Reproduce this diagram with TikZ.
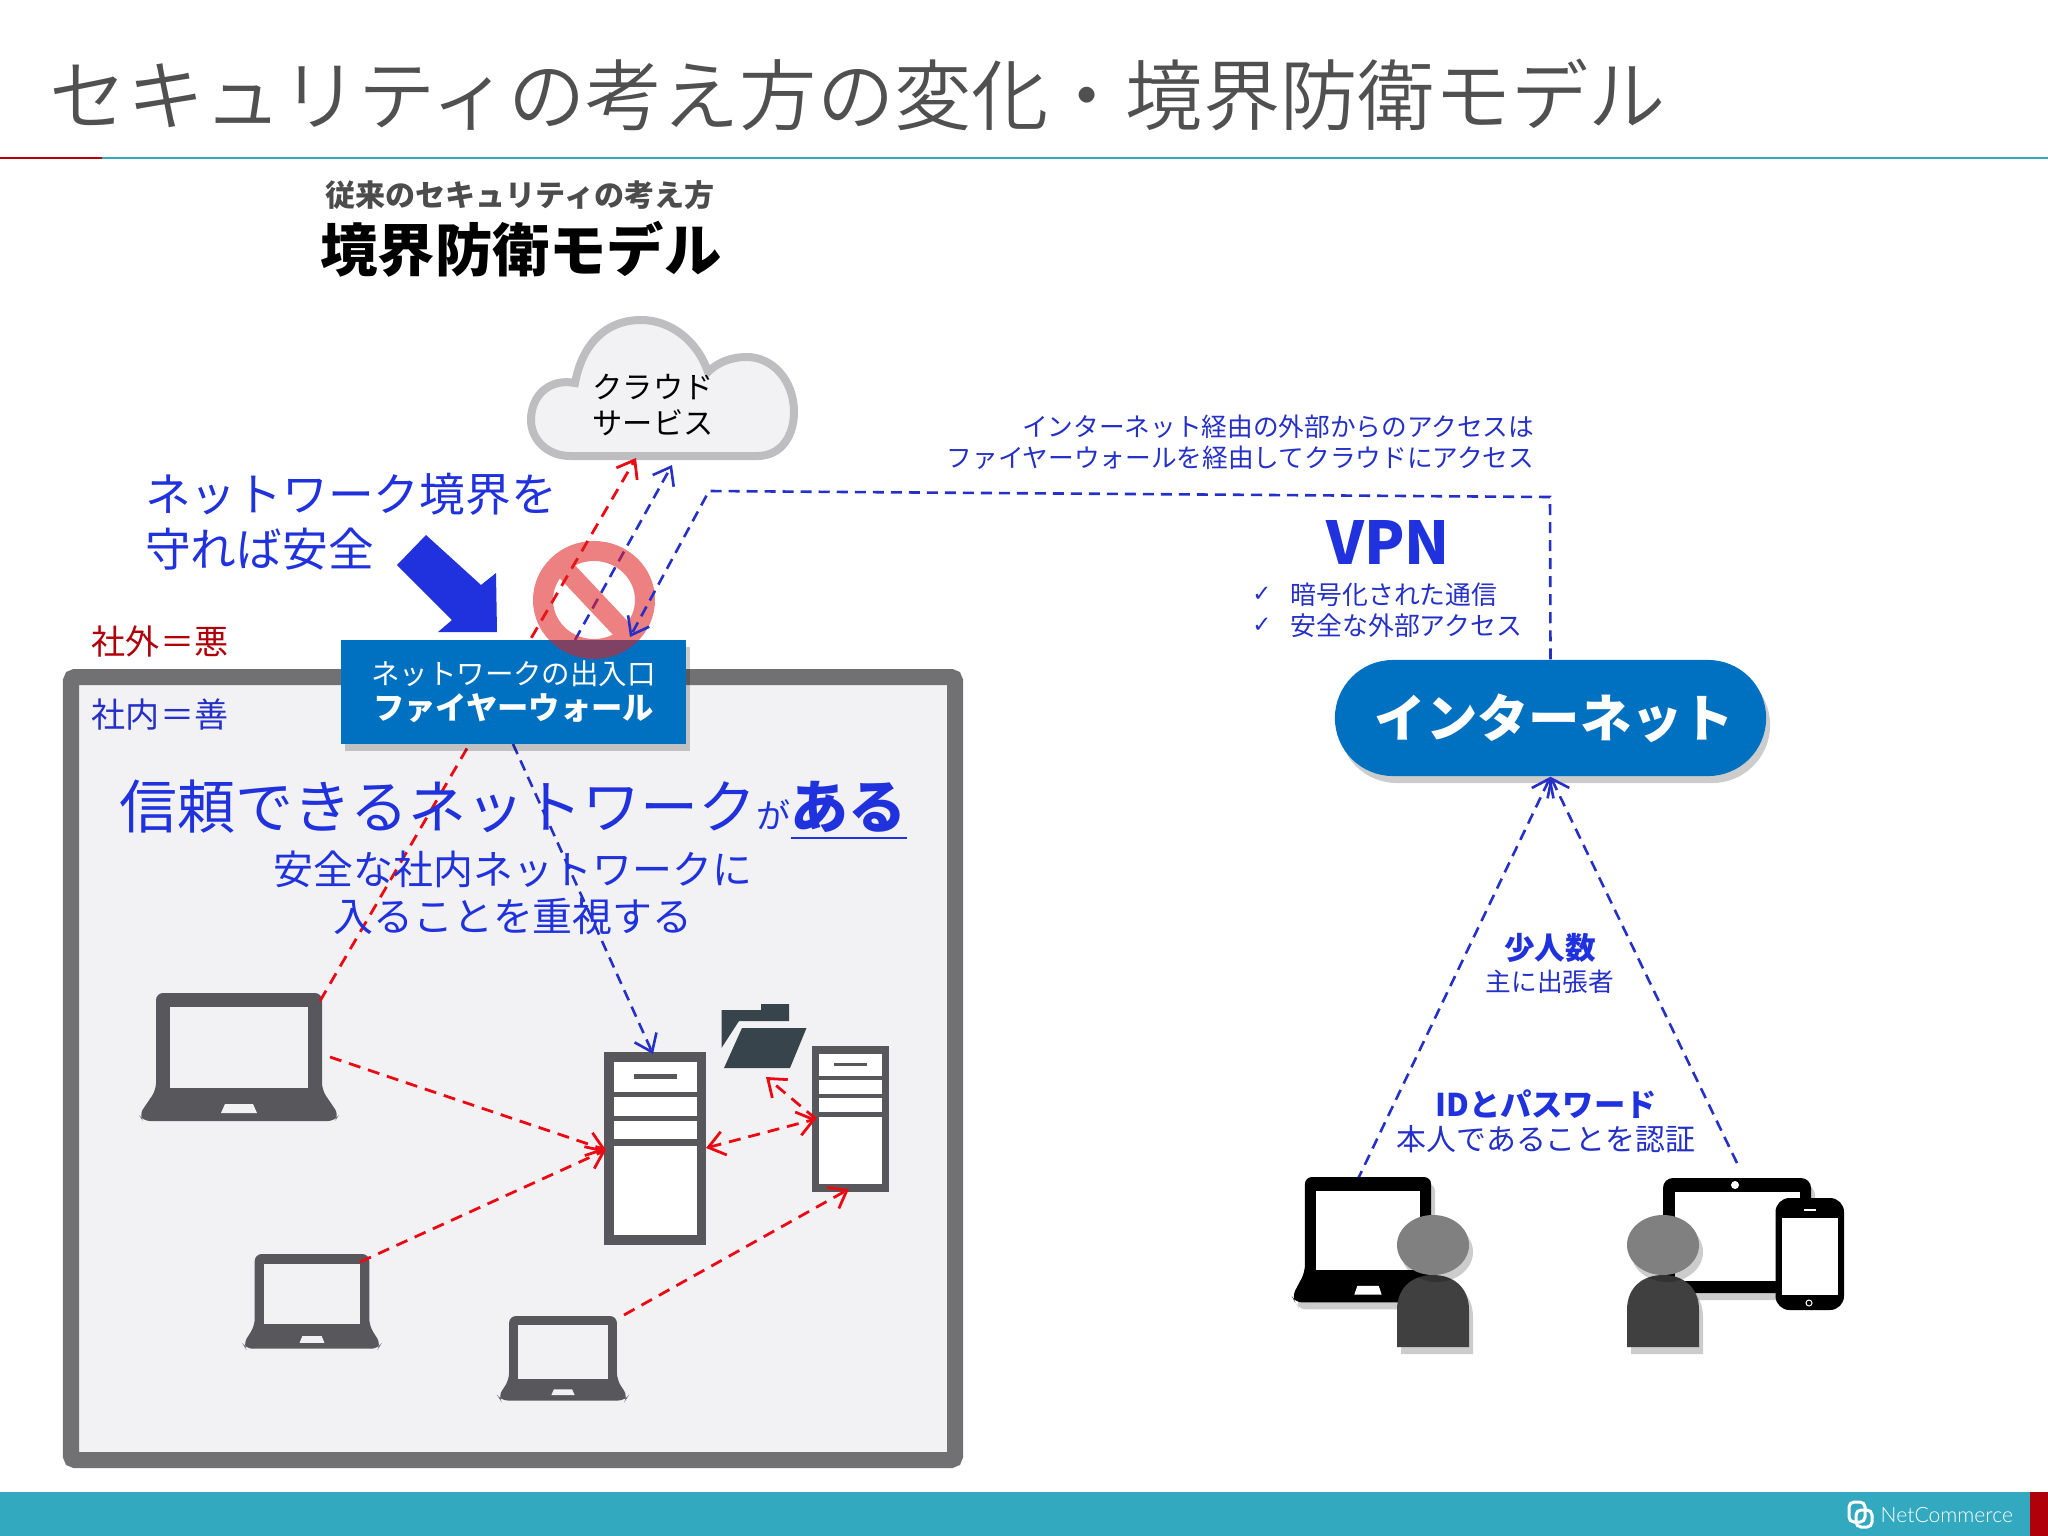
\documentclass[tikz,border=0pt]{standalone}
\usepackage{fontspec}
\setmainfont{Noto Sans CJK JP}
\newfontfamily\lightfont{Noto Sans CJK JP DemiLight}
\newfontfamily\symfont{DejaVu Sans}
\newfontfamily\logofont{Lato Light}
\usepackage{xcolor}
\definecolor{blue1}{RGB}{32,50,222}
\definecolor{blue2}{RGB}{36,48,200}
\definecolor{red1}{RGB}{235,10,20}
\definecolor{wine}{RGB}{176,0,10}
\definecolor{fwblue}{RGB}{0,112,192}
\definecolor{panel}{RGB}{242,242,244}
\definecolor{frame}{RGB}{113,112,115}
\definecolor{icon}{RGB}{88,87,91}
\definecolor{folder}{RGB}{55,68,76}
\definecolor{cloudline}{RGB}{190,190,192}
\definecolor{teal1}{RGB}{51,169,191}
\definecolor{titlegrey}{RGB}{80,80,80}
\definecolor{stop}{RGB}{224,32,32}
\usetikzlibrary{arrows.meta,shadows}
\newcommand{\fs}[2]{\fontsize{#1pt}{#2pt}\selectfont}

\tikzset{
    >={Straight Barb[length=.16cm,width=.24cm]},
    txt/.style={inner sep=0pt,align=center},
    shd/.style={drop shadow={shadow xshift=.04cm,shadow yshift=-.07cm,opacity=.2,fill=black}},
    redline/.style={draw=red1,line width=.028cm,dash pattern=on .12cm off .08cm},
    blueline/.style={draw=blue2,line width=.026cm,dash pattern=on .11cm off .07cm},
    pics/laptop/.style n args={2}{code={
        \fill[#1,rounded corners=.07cm] (-83,0) -- (83,0) -- (83,97) -- (100,122) -- (96,128) -- (-96,128) -- (-100,122) -- (-83,97) -- cycle;
        \fill[#2] (-69,14) rectangle (69,95);
        \fill[#2] (-14,111) -- (14,111) -- (18,120) -- (-18,120) -- cycle;
    }},
    pics/server/.style={code={
        \fill[icon] (-51,0) rectangle (51,193);
        \fill[white] (-41.5,10) rectangle (41.5,40);
        \fill[white] (-41.5,45) rectangle (41.5,64);
        \fill[white] (-41.5,69) rectangle (41.5,87);
        \fill[white] (-41.5,94) rectangle (41.5,183);
        \fill[icon] (-21.5,22) rectangle (21.5,27);
    }},
    pics/person/.style={code={
        \fill[black!75,shd] (-36,102) -- (-36,65) .. controls (-36,42) and (-20,30) .. (0,30) .. controls (20,30) and (36,42) .. (36,65) -- (36,102) -- cycle;
        \fill[black!50,shd] (0,0) ellipse (36 and 30);
    }},
}

\begin{document}
\begin{tikzpicture}[x=.01cm,y=-.01cm]
    \useasboundingbox (0,0) rectangle (2048,1536);
    \fill[white] (0,0) rectangle (2048,1536);

    \node[txt,font=\lightfont\fs{21.95}{26},text=titlegrey] (title) at (858,95) {セキュリティの考え方の変化・境界防衛モデル};
    \fill[teal1] (102,157) rectangle (2048,159);
    \fill[wine] (0,157) rectangle (102,159);
    \node[txt,font=\bfseries\fs{8.55}{10},text=black!70] (subtitle) at (520,195) {従来のセキュリティの考え方};
    \node[txt,font=\bfseries\fs{16.3}{19}] (modelname) at (521,249) {境界防衛モデル};

    % intranet
    \draw[draw=frame,fill=panel,line width=.16cm,rounded corners=.04cm] (71,677) rectangle (955,1460);
    \node[txt,font=\fs{9.7}{11},text=wine] (outside) at (160,642) {社外＝悪};
    \node[txt,font=\fs{9.7}{11},text=blue2] (inside) at (160,715) {社内＝善};

    % cloud
    \draw[draw=cloudline,fill=panel,line width=.08cm] (570,456) -- (757,456)
        .. controls (782,456) and (794,435) .. (794,412)
        .. controls (794,380) and (772,357) .. (747,357)
        .. controls (730,357) and (717,363) .. (708,372)
        .. controls (697,340) and (670,320) .. (641,320)
        .. controls (605,320) and (582,345) .. (575,383)
        .. controls (550,378) and (531,395) .. (531,420)
        .. controls (531,440) and (548,456) .. (570,456) -- cycle;
    \node[txt,font=\fs{8.6}{10.2}] (cloud) at (653,405) {クラウド\\サービス};

    % icons
    \pic (lapa) at (239,993) {laptop={icon}{panel}};
    \pic[xscale=.69,yscale=.74] (lapb) at (312,1254) {laptop={icon}{panel}};
    \pic[xscale=.65,yscale=.66] (lapc) at (563,1316) {laptop={icon}{panel}};
    \pic (srva) at (655,1052) {server};
    \pic[scale=.755] (srvb) at (850.5,1046) {server};
    \fill[folder] (721.5,1010) -- (761,1010) -- (761,1004) -- (789,1004) -- (789,1021) -- (739,1021) -- (721.5,1048) -- cycle;
    \fill[folder] (742,1028) -- (806.5,1028) -- (790,1068) -- (724,1068) -- cycle;

    \coordinate (lapatop) at (320,1001);
    \coordinate (lapaside) at (330,1057);
    \coordinate (lapbtop) at (360,1262);
    \coordinate (lapctop) at (624,1315);
    \coordinate (srvatop) at (653,1054);
    \coordinate (srvawest) at (606,1150);
    \coordinate (srvaeast) at (706,1148);
    \coordinate (srvbwest) at (816,1119);
    \coordinate (srvbsouth) at (849,1189);
    \coordinate (foldersouth) at (766,1077);
    \coordinate (cloudr) at (636,458);
    \coordinate (cloudb) at (672,465);
    \coordinate (fwtop) at (575,640);
    \coordinate (fwbottom) at (513,744);
    \coordinate (fwentry) at (630,637);
    \coordinate (bendb) at (709,491);
    \coordinate (benda) at (1550,497);
    \coordinate (lapdtop) at (1357,1181);
    \coordinate (tabtop) at (1737,1163);

    % connectors
    \draw[redline,->] (lapatop) -- (cloudr);
    \draw[blueline,->] (fwtop) -- (cloudb);
    \draw[blueline,->] (fwbottom) -- (srvatop);
    \draw[redline,->] (lapaside) -- (srvawest);
    \draw[redline,->] (lapbtop) -- (srvawest);
    \draw[redline,->] (lapctop) -- (srvbsouth);
    \draw[redline,<->] (srvaeast) -- (srvbwest);
    \draw[redline,->] (srvbwest) -- (foldersouth);

    % firewall
    \node[txt,fill=fwblue,minimum width=3.45cm,minimum height=1.04cm,text=white,shd,font=\fs{8.1}{10}] (fw) at (513.5,692)
        {ネットワークの出入口\\{\bfseries\fs{8.9}{10}ファイヤーウォール}};
    \fill[blue1] (426,535) -- (481,585) -- (496,573) -- (497,632) -- (438,632) -- (452,620) -- (397,565) -- cycle;
    \begin{scope}[transparency group,opacity=.57]
        \draw[stop,line width=.2cm] (594,600) ellipse (51 and 49);
        \draw[stop,line width=.2cm] (562,566) -- (626,634);
    \end{scope}
    \node[txt,font=\fs{13}{15.6},text=blue1,align=left] (safe) at (351,522) {ネットワーク境界を\\守れば安全\hspace*{4em}};

    \node[txt,font=\fs{16.5}{19},text=blue1] (trust) at (513,810) {信頼できるネットワーク{\fs{9.7}{19}が}{\bfseries\underline{ある}}};
    \node[txt,font=\fs{11.35}{13.4},text=blue1] (trustsub) at (513,893) {安全な社内ネットワークに\\入ることを重視する};

    % internet side
    \node[txt,fill=fwblue,minimum width=4.31cm,minimum height=1.16cm,rounded corners=.58cm,text=white,shd,font=\bfseries\fs{14.6}{17}] (inet) at (1550.5,718) {\hspace*{.08cm}\raisebox{.04cm}{インターネット}};
    \draw[blueline,->] (inet.north) -- (benda) -- (bendb) -- (fwentry);
    \draw[blueline,->] (lapdtop) -- (inet.south);
    \draw[blueline,->] (tabtop) -- (inet.south);

    \node[txt,font=\fs{7.3}{8.8},text=blue2,align=right,anchor=east] (viafw) at (1535,442) {インターネット経由の外部からのアクセスは\\ファイヤーウォールを経由してクラウドにアクセス};
    \node[txt,font=\bfseries\fs{16.8}{19},text=blue1] (vpn) at (1388,542) {VPN};
    \node[txt,font=\symfont\fs{6.5}{8},text=blue2] (checka) at (1262,594) {✓};
    \node[txt,font=\symfont\fs{6.5}{8},text=blue2] (checkb) at (1262,625) {✓};
    \node[txt,font=\fs{7.35}{8.8},text=blue2,anchor=west] (vpna) at (1290,595) {暗号化された通信};
    \node[txt,font=\fs{7.35}{8.8},text=blue2,anchor=west] (vpnb) at (1290,626) {安全な外部アクセス};
    \node[txt,font=\bfseries\fs{8.7}{10},text=blue1] (few) at (1550,948) {少人数};
    \node[txt,font=\fs{7.3}{9},text=blue2] (trip) at (1550,982) {主に出張者};
    \node[txt,font=\bfseries\fs{8.9}{10},text=blue1] (idpw) at (1546,1104) {IDとパスワード};
    \node[txt,font=\fs{8.5}{10},text=blue2] (auth) at (1546,1139) {本人であることを認証};

    % users
    \pic[xscale=.76,yscale=.98] (lapd) at (1368,1177) {laptop={black,shd}{white}};
    \fill[black,rounded corners=.1cm,shd] (1663,1178) rectangle (1811,1293);
    \fill[white] (1675,1192) rectangle (1800,1281);
    \fill[white] (1735,1185) circle (4);
    \fill[black,rounded corners=.14cm] (1775.5,1198) rectangle (1844,1310);
    \fill[white] (1782,1218) rectangle (1837.5,1295);
    \fill[white] (1804,1209) rectangle (1816,1211);
    \draw[white,line width=.01cm] (1809,1303) circle (3);
    \pic (usera) at (1433,1245) {person};
    \pic (userb) at (1663,1245) {person};

    % footer
    \fill[teal1] (0,1492) rectangle (2030,1536);
    \fill[wine] (2030,1492) rectangle (2048,1536);
    \draw[white,line width=.03cm,rounded corners=.05cm] (1849,1502) rectangle (1865,1522);
    \draw[white,line width=.03cm,rounded corners=.05cm] (1856,1510) rectangle (1872,1527);
    \node[txt,font=\logofont\fs{6}{8},text=white,anchor=west] (brand) at (1880,1515) {NetCommerce};
\end{tikzpicture}
\end{document}
